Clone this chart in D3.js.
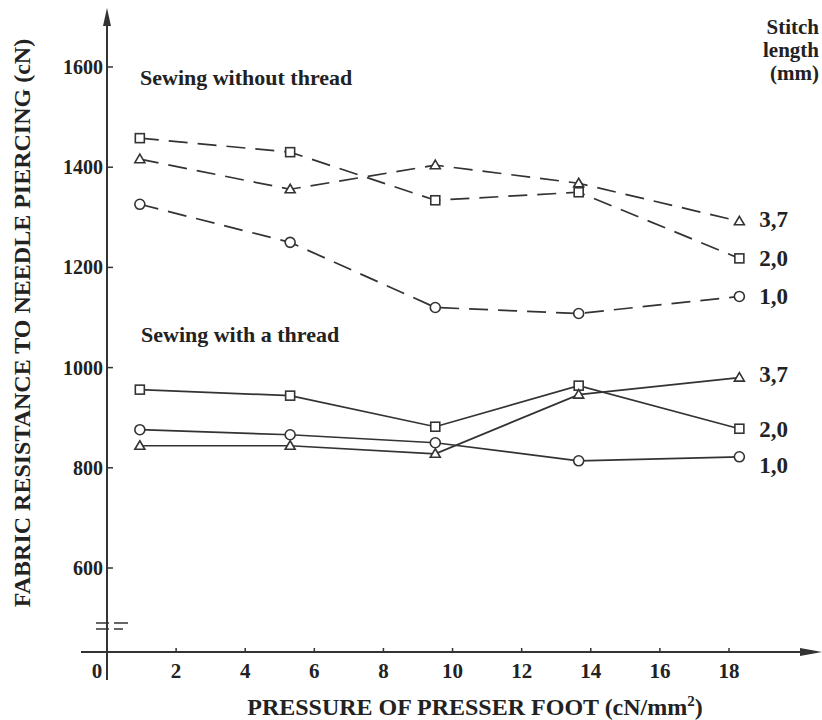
<!DOCTYPE html>
<html>
<head>
<meta charset="utf-8">
<script src="https://cdn.jsdelivr.net/npm/d3@7"></script>
<style>
  body { margin: 0; background: #fff; }
  text { font-family: "Liberation Serif", "Times New Roman", serif; font-weight: bold; fill: #222; }
</style>
</head>
<body>
<svg id="chart" width="822" height="720"></svg>
<script>
// DATA
const pressure = [0.95, 5.3, 9.5, 13.65, 18.3];
const stitchLengths = ["1,0", "2,0", "3,7"];
const markerFor = { "1,0": "circle", "2,0": "square", "3,7": "triangle" };

// sewing without thread (dashed)
const withoutThread = {
  "3,7": [1416, 1356, 1404, 1368, 1292],
  "2,0": [1458, 1430, 1334, 1350, 1218],
  "1,0": [1326, 1250, 1120, 1108, 1142],
};
// sewing with a thread (solid)
const withThread = {
  "3,7": [844, 844, 828, 946, 980],
  "2,0": [956, 944, 882, 964, 878],
  "1,0": [876, 866, 850, 814, 822],
};

const xTicks = [0, 2, 4, 6, 8, 10, 12, 14, 16, 18];
const yTicks = [600, 800, 1000, 1200, 1400, 1600];

// label offsets (y nudges so labels don't overlap)
const labelDy = {
  without: { "3,7": -2, "2,0": 0, "1,0": 0 },
  with: { "3,7": -4, "2,0": 0, "1,0": 8 },
};

// CANVAS SETUP
const svg = d3.select("#chart");
const ink = "#333";

const x = d3.scaleLinear().domain([0, 18]).range([107, 729]);
const y = d3.scaleLinear().domain([600, 1600]).range([568, 67]);
const xAxisY = 652;

// AXES
const g = svg.append("g");

// y axis line with arrow
g.append("line")
  .attr("x1", x(0)).attr("x2", x(0))
  .attr("y1", 20).attr("y2", 680)
  .attr("stroke", ink).attr("stroke-width", 2);
g.append("path")
  .attr("d", `M${x(0)},8 L${x(0) - 4},26 L${x(0) + 4},26 Z`)
  .attr("fill", ink);

// x axis line with arrow
g.append("line")
  .attr("x1", 81).attr("x2", 806)
  .attr("y1", xAxisY).attr("y2", xAxisY)
  .attr("stroke", ink).attr("stroke-width", 2);
g.append("path")
  .attr("d", `M822,${xAxisY} L800,${xAxisY - 4} L800,${xAxisY + 4} Z`)
  .attr("fill", ink);

// x ticks
g.selectAll(".xt")
  .data(xTicks.filter((d) => d > 0))
  .join("line")
  .attr("x1", (d) => x(d)).attr("x2", (d) => x(d))
  .attr("y1", xAxisY - 4).attr("y2", xAxisY + 1)
  .attr("stroke", ink).attr("stroke-width", 1.5);
g.selectAll(".xl")
  .data(xTicks)
  .join("text")
  .attr("x", (d) => (d === 0 ? x(0) - 10 : x(d)))
  .attr("y", xAxisY + 26)
  .attr("text-anchor", "middle")
  .attr("font-size", 21)
  .text((d) => d);

// y ticks
g.selectAll(".yt")
  .data(yTicks)
  .join("line")
  .attr("x1", x(0)).attr("x2", x(0) + 6)
  .attr("y1", (d) => y(d)).attr("y2", (d) => y(d))
  .attr("stroke", ink).attr("stroke-width", 1.5);
g.selectAll(".yl")
  .data(yTicks)
  .join("text")
  .attr("x", x(0) - 4)
  .attr("y", (d) => y(d) + 7)
  .attr("text-anchor", "end")
  .attr("font-size", 20)
  .text((d) => d);

// axis break marks
[623, 629].forEach((by, i) => {
  g.append("line")
    .attr("x1", 96).attr("x2", x(0) + 2)
    .attr("y1", by).attr("y2", by)
    .attr("stroke", ink).attr("stroke-width", 1.5);
  g.append("line")
    .attr("x1", x(0) + 7).attr("x2", i === 0 ? 128 : 123)
    .attr("y1", by).attr("y2", by)
    .attr("stroke", ink).attr("stroke-width", 1.5);
});

// axis titles
svg.append("text")
  .attr("transform", `translate(30,${323}) rotate(-90)`)
  .attr("text-anchor", "middle")
  .attr("font-size", 24)
  .text("FABRIC RESISTANCE TO NEEDLE PIERCING (cN)");

svg.append("text")
  .attr("x", 475)
  .attr("y", 715)
  .attr("text-anchor", "middle")
  .attr("font-size", 24)
  .html('PRESSURE OF PRESSER FOOT (cN/mm<tspan font-size="15" dy="-9">2</tspan><tspan dy="9">)</tspan>');

// group titles
svg.append("text").attr("x", 140).attr("y", 85).attr("font-size", 22)
  .text("Sewing without thread");
svg.append("text").attr("x", 141).attr("y", 342).attr("font-size", 22)
  .text("Sewing with a thread");

const legendTitle = svg.append("text").attr("text-anchor", "end").attr("font-size", 21);
["Stitch", "length", "(mm)"].forEach((t, i) => {
  legendTitle.append("tspan").attr("x", 819).attr("y", 34 + i * 23).text(t);
});

// SERIES
const line = d3.line()
  .x((d, i) => x(pressure[i]))
  .y((d) => y(d));

function drawMarker(sel, type) {
  if (type === "circle") {
    sel.append("circle").attr("r", 5);
  } else if (type === "square") {
    sel.append("rect").attr("x", -4.5).attr("y", -4.5).attr("width", 9).attr("height", 9);
  } else {
    sel.append("path").attr("d", "M0,-5 L5,3.5 L-5,3.5 Z");
  }
}

function drawGroup(data, dashed, dyMap) {
  const grp = svg.append("g");
  stitchLengths.forEach((k) => {
    const vals = data[k];
    grp.append("path")
      .attr("d", line(vals))
      .attr("fill", "none")
      .attr("stroke", ink)
      .attr("stroke-width", 1.7)
      .attr("stroke-dasharray", dashed ? "19,10" : null);

    const pts = grp.selectAll(null)
      .data(vals)
      .join("g")
      .attr("transform", (d, i) => `translate(${x(pressure[i])},${y(d)})`)
      .attr("fill", "#fff")
      .attr("stroke", ink)
      .attr("stroke-width", 1.6);
    pts.each(function () {
      drawMarker(d3.select(this), markerFor[k]);
    });

    const last = vals[vals.length - 1];
    grp.append("text")
      .attr("x", x(pressure[pressure.length - 1]) + 20)
      .attr("y", y(last) + 8 + dyMap[k])
      .attr("font-size", 23)
      .text(k);
  });
}

drawGroup(withoutThread, true, labelDy.without);
drawGroup(withThread, false, labelDy.with);
</script>
</body>
</html>
